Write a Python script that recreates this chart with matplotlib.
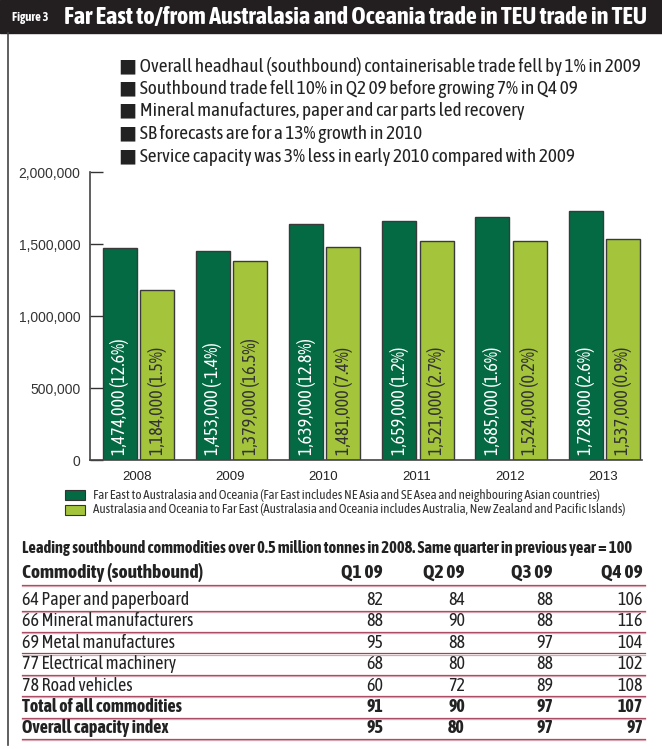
import matplotlib
matplotlib.use("Agg")
import matplotlib.pyplot as plt
from matplotlib import font_manager as fm
from matplotlib.lines import Line2D
from matplotlib.patches import Rectangle
import numpy as np

W, H = 662, 749

years = ["2008", "2009", "2010", "2011", "2012", "2013"]
fe_to_aus = [1474000, 1453000, 1639000, 1659000, 1685000, 1728000]
fe_growth = ["12.6", "-1.4", "12.8", "1.2", "1.6", "2.6"]
aus_to_fe = [1184000, 1379000, 1481000, 1521000, 1524000, 1537000]
aus_growth = ["1.5", "16.5", "7.4", "2.7", "0.2", "0.9"]

bullets = [
    "Overall headhaul (southbound) containerisable trade fell by 1% in 2009",
    "Southbound trade fell 10% in Q2 09 before growing 7% in Q4 09",
    "Mineral manufactures, paper and car parts led recovery",
    "SB forecasts are for a 13% growth in 2010",
    "Service capacity was 3% less in early 2010 compared with 2009",
]

legend_labels = [
    "Far East to Australasia and Oceania (Far East includes NE Asia and SE Asea and neighbouring Asian countries)",
    "Australasia and Oceania to Far East (Australasia and Oceania includes Australia, New Zealand and Pacific Islands)",
]

table_cols = ["Q1 09", "Q2 09", "Q3 09", "Q4 09"]
commodities = ["64 Paper and paperboard", "66 Mineral manufacturers", "69 Metal manufactures",
               "77 Electrical machinery", "78 Road vehicles", "Total of all commodities",
               "Overall capacity index"]
q1 = [82, 88, 95, 68, 60, 91, 95]
q2 = [84, 90, 88, 80, 72, 90, 80]
q3 = [88, 88, 97, 88, 89, 97, 97]
q4 = [106, 116, 104, 102, 108, 107, 97]

DARK = "#036a43"
LIGHT = "#a4c43b"
plt.rcParams["font.family"] = ["Liberation Sans", "DejaVu Sans"]


def wnum(w):
    if isinstance(w, int):
        return w
    return {"bold": 700, "normal": 400, "regular": 400, "book": 400}.get(str(w).lower(), 400)


# narrow faces: one regular and one bold, falling back to Liberation Sans
cands = [f for f in fm.fontManager.ttflist
         if ("Narrow" in f.name or "Condensed" in f.name) and f.style == "normal"]
reg = [f.name for f in cands if wnum(f.weight) == 400]
bld = [f.name for f in cands if wnum(f.weight) == 700]
both = sorted(set(reg) & set(bld))
if both:
    reg_name = bld_name = both[0]
else:
    reg_name = sorted(reg)[0] if reg else "Liberation Sans"
    bld_name = sorted(bld)[0] if bld else "Liberation Sans"
NF = dict(family=[reg_name, "DejaVu Sans"])
BF = dict(family=[bld_name, "DejaVu Sans"], fontweight="bold")

fig = plt.figure(figsize=(W / 100, H / 100), dpi=100)
renderer = fig.canvas.get_renderer()


def fx(x):
    return x / W


def fy(y):
    return 1 - y / H


def size_for(s, width_px, font):
    # font size at which s spans width_px
    t = fig.text(0, 0, s, fontsize=10, **font)
    w = t.get_window_extent(renderer).width
    t.remove()
    return 10 * width_px / w


def hline(x0, x1, y, color, lw):
    fig.add_artist(Line2D([fx(x0), fx(x1)], [fy(y), fy(y)], color=color, lw=lw))


# header bar
title = "Far East to/from Australasia and Oceania trade in TEU trade in TEU"
fig.add_artist(Rectangle((0, fy(33)), 1, 33 / H, color="#231f20", zorder=0))
fig.text(fx(12), fy(18), "Figure 3", color="white", va="center",
         fontsize=min(size_for("Figure 3", 44, BF), 9), **BF)
fig.text(fx(64), fy(17), title, color="white", va="center",
         fontsize=min(size_for(title, 584, BF), 17.5), **BF)

# left frame
fig.add_artist(Line2D([fx(8), fx(8)], [fy(33), fy(745)], color="#444444", lw=1.2))

# bullet points
bsize = size_for("\u25a0 " + bullets[0], 521, NF)
for i, b in enumerate(bullets):
    fig.text(fx(119), fy(66 + i * 22.7), "\u25a0 " + b, fontsize=bsize,
             va="center", color="#222222", **NF)

# bar chart
ax = fig.add_axes([fx(90), fy(460), (642 - 90) / W, (460 - 172) / H])
x = np.arange(len(years))
bw = 0.365
ax.bar(x - 0.185, fe_to_aus, bw, color=DARK, edgecolor="#3a3a3a", lw=1)
ax.bar(x + 0.215, aus_to_fe, bw, color=LIGHT, edgecolor="#3a3a3a", lw=1)
lsize = size_for("1,474,000 (12.6%)", 116, NF)
for i in range(len(years)):
    ax.text(x[i] - 0.185, 35000, f"{fe_to_aus[i]:,} ({fe_growth[i]}%)", rotation=90,
            ha="center", va="bottom", color="white", fontsize=lsize, **NF)
    ax.text(x[i] + 0.215, 35000, f"{aus_to_fe[i]:,} ({aus_growth[i]}%)", rotation=90,
            ha="center", va="bottom", color="#333333", fontsize=lsize, **NF)

ax.set_xlim(-0.505, 5.42)
ax.set_ylim(0, 2000000)
ax.set_yticks([0, 500000, 1000000, 1500000, 2000000])
ax.set_yticklabels(["0", "500,000", "1,000,000", "1,500,000", "2,000,000"])
ax.set_xticks(x)
ax.set_xticklabels(years)
ax.tick_params(axis="y", direction="in", length=9.5, width=1, color="#333333",
               labelsize=10, labelcolor="#333333", pad=7)
ax.tick_params(axis="x", length=0, labelsize=9.5, labelcolor="#222222", pad=8)
for s in ["top", "right"]:
    ax.spines[s].set_visible(False)
for s in ["left", "bottom"]:
    ax.spines[s].set_color("#444444")
    ax.spines[s].set_linewidth(1.2)
ax.set_facecolor("none")

# legend
gsize = size_for(legend_labels[1], 533, NF)
for i, (lab, col) in enumerate(zip(legend_labels, [DARK, LIGHT])):
    y = 490 + i * 15
    fig.add_artist(Rectangle((fx(65), fy(y + 10)), 20 / W, 10 / H, facecolor=col,
                             edgecolor="#333333", lw=0.8))
    fig.text(fx(93), fy(y + 5), lab, fontsize=gsize, va="center", color="#333333", **NF)

# table
subtitle = ("Leading southbound commodities over 0.5 million tonnes in 2008. "
            "Same quarter in previous year = 100")
fig.text(fx(22), fy(548), subtitle, va="center", color="#222222",
         fontsize=size_for(subtitle, 603, BF), **BF)

col_right = [383, 465, 553, 643]
hsize = size_for("Commodity (southbound)", 180, BF)
fig.text(fx(22), fy(573), "Commodity (southbound)", fontsize=hsize,
         va="center", color="#222222", **BF)
for c, xr in zip(table_cols, col_right):
    fig.text(fx(xr), fy(573), c, fontsize=hsize, va="center", ha="right",
             color="#222222", **BF)


def row_line(y):
    hline(22, 645, y, "#a3425c", 0.9)
    hline(22, 645, y + 1.2, "#d9a3b0", 0.9)


rsize = size_for(commodities[0], 168, NF)
row_line(585)
for r, name in enumerate(commodities):
    y = 600 + r * 21.4
    font = BF if r >= 5 else NF
    fig.text(fx(22), fy(y), name, fontsize=rsize, va="center", color="#222222", **font)
    for vals, xr in zip([q1, q2, q3, q4], col_right):
        fig.text(fx(xr), fy(y), str(vals[r]), fontsize=rsize, va="center", ha="right",
                 color="#222222", **font)
    row_line(y + 10.5)

fig.savefig("out.png", dpi=100)
